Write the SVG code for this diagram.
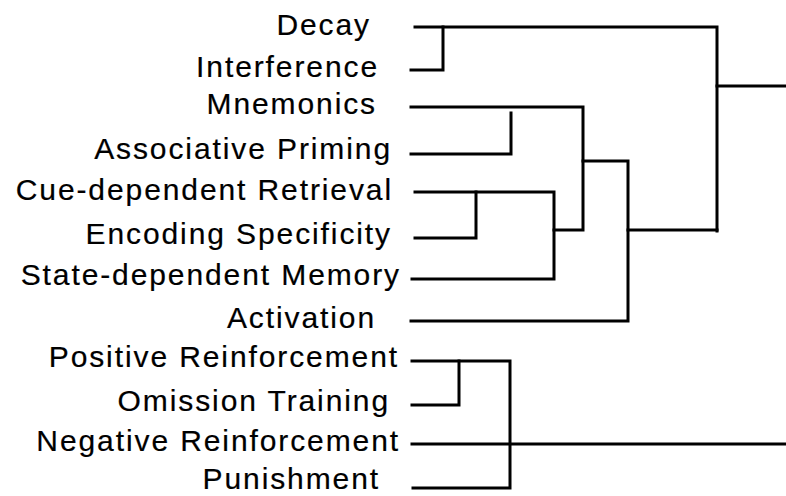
<svg xmlns="http://www.w3.org/2000/svg" width="786" height="496" viewBox="0 0 786 496">
<style>
.lbl{font-family:"Liberation Sans",Arial,sans-serif;font-size:30px;letter-spacing:1.9px;fill:#000;stroke:#000;stroke-width:0.2;text-anchor:end}
.ln{fill:none;stroke:#000;stroke-width:3;stroke-linecap:square;stroke-linejoin:miter}
</style>
<rect width="786" height="496" fill="#fff"/>
<g id="n-decay"><text class="lbl" x="371" y="35">Decay</text></g>
<g id="n-interference"><text class="lbl" x="379" y="77">Interference</text></g>
<g id="n-mnemonics"><text class="lbl" x="377" y="114">Mnemonics</text></g>
<g id="n-associative-priming"><text class="lbl" x="392" y="159">Associative Priming</text></g>
<g id="n-cue-dependent-retrieval"><text class="lbl" x="393" y="200">Cue-dependent Retrieval</text></g>
<g id="n-encoding-specificity"><text class="lbl" x="392" y="244">Encoding Specificity</text></g>
<g id="n-state-dependent-memory"><text class="lbl" x="401" y="285">State-dependent Memory</text></g>
<g id="n-activation"><text class="lbl" x="376" y="328">Activation</text></g>
<g id="n-positive-reinforcement"><text class="lbl" x="399" y="367">Positive Reinforcement</text></g>
<g id="n-omission-training"><text class="lbl" x="390" y="411">Omission Training</text></g>
<g id="n-negative-reinforcement"><text class="lbl" x="400" y="451">Negative Reinforcement</text></g>
<g id="n-punishment"><text class="lbl" x="380" y="489">Punishment</text></g>
<g id="connectors">
<path class="ln" d="M415,27 H717 V231"/>
<path class="ln" d="M443,27 V70 H411"/>
<path class="ln" d="M717,86 H786"/>
<path class="ln" d="M411,107 H583 V230 H554"/>
<path class="ln" d="M411,154 H511 V113"/>
<path class="ln" d="M415,192 H554 V279 H412"/>
<path class="ln" d="M476,192 V238 H415"/>
<path class="ln" d="M583,161 H628 V321 H411"/>
<path class="ln" d="M628,230 H717"/>
<path class="ln" d="M412,361 H510 V488 H413"/>
<path class="ln" d="M459,361 V405 H412"/>
<path class="ln" d="M412,444 H786" stroke-width="2.5"/>
</g>
</svg>
